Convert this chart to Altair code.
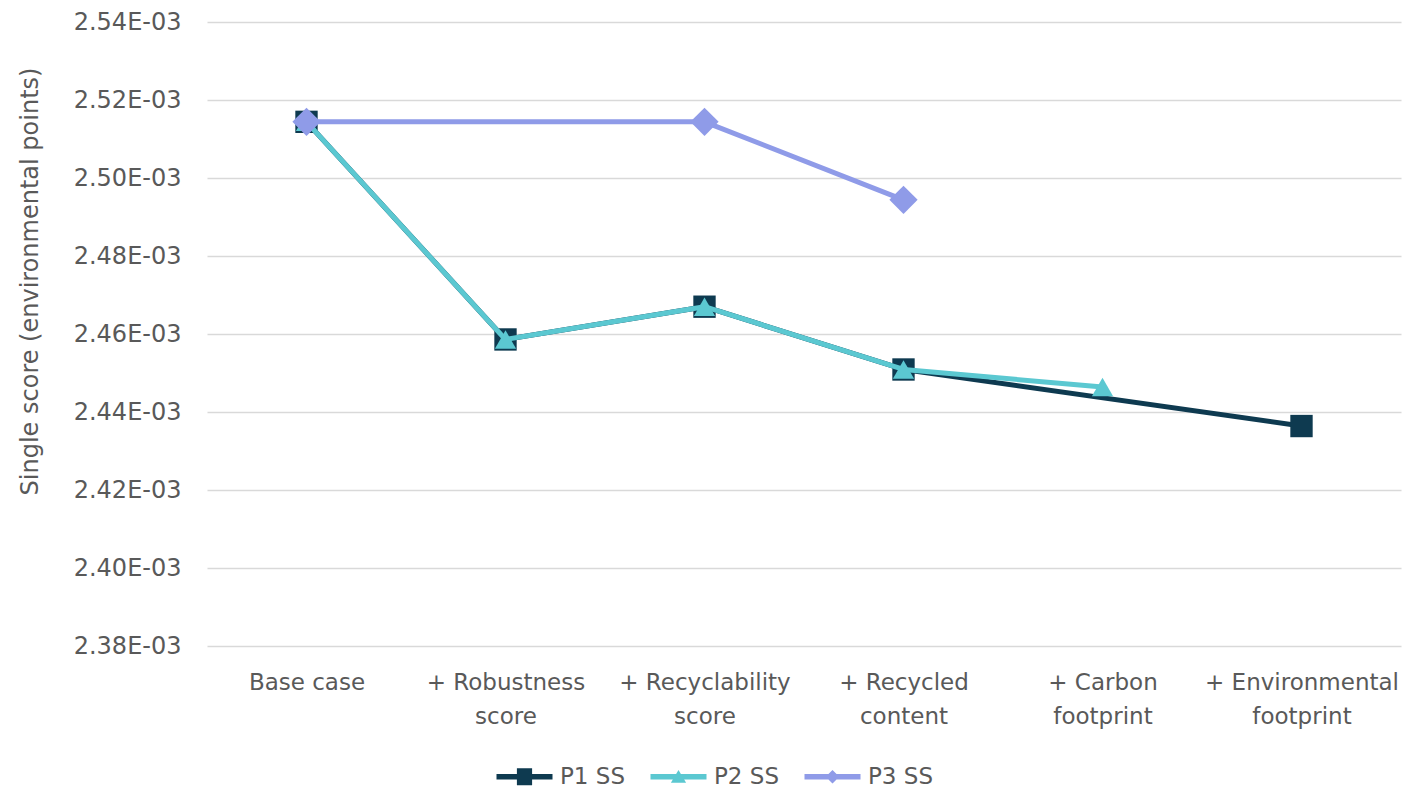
import altair as alt
import pandas as pd

# Scenario steps (x axis); "\n" marks the line break in the axis label
categories = [
    "Base case",
    "+ Robustness\nscore",
    "+ Recyclability\nscore",
    "+ Recycled\ncontent",
    "+ Carbon\nfootprint",
    "+ Environmental\nfootprint",
]

# Single score per scenario step (None = step not assessed for that product)
p1_ss = [2.5144e-03, 2.4586e-03, 2.4670e-03, 2.4509e-03, None, 2.4364e-03]
p2_ss = [2.5144e-03, 2.4586e-03, 2.4670e-03, 2.4509e-03, 2.4464e-03, None]
p3_ss = [2.5144e-03, None, 2.5144e-03, 2.4944e-03, None, None]

series_names = ["P1 SS", "P2 SS", "P3 SS"]
series_values = [p1_ss, p2_ss, p3_ss]
series_colors = ["#0e3a50", "#5bc8d1", "#8f9be8"]
series_shapes = ["square", "triangle-up", "diamond"]
marker_sizes = [500, 450, 800]

# Legend glyphs: a horizontal stroke with the series marker on top
legend_paths = [
    "M-3.5,-0.33L3.5,-0.33L3.5,0.33L-3.5,0.33Z M-0.95,-1.05L0.95,-1.05L0.95,1.05L-0.95,1.05Z",
    "M-3.5,-0.33L3.5,-0.33L3.5,0.33L-3.5,0.33Z M0,-0.85L0.95,0.75L-0.95,0.75Z",
    "M-3.5,-0.33L3.5,-0.33L3.5,0.33L-3.5,0.33Z M-0.85,0L0,-0.85L0.85,0L0,0.85Z",
]

rows = []
for name, vals in zip(series_names, series_values):
    for cat, v in zip(categories, vals):
        if v is not None:
            rows.append({"series": name, "step": cat, "score": v})
df = pd.DataFrame(rows)

FONT = "DejaVu Sans"
GREY = "#595959"

x_enc = alt.X(
    "step:N",
    sort=categories,
    scale=alt.Scale(type="point", padding=0.5),
    axis=alt.Axis(
        title=None,
        labelExpr="split(datum.label, '\\n')",
        labelAngle=0,
        labelFontSize=23,
        labelColor=GREY,
        labelFont=FONT,
        labelPadding=25,
        labelLineHeight=34,
        labelBaseline="top",
        labelLimit=400,
        labelOverlap=False,
        ticks=False,
        domain=False,
        grid=False,
    ),
)

y_enc = alt.Y(
    "score:Q",
    scale=alt.Scale(domain=[0.00238, 0.00254], nice=False, zero=False),
    axis=alt.Axis(
        title="Single score (environmental points)",
        titleFont=FONT,
        titleFontSize=24,
        titleFontWeight="normal",
        titleColor=GREY,
        titleX=-177,
        titleY=259,
        titleBaseline="middle",
        titleAlign="center",
        titleAngle=270,
        values=[0.00238 + i * 0.00002 for i in range(9)],
        labelExpr="format(datum.value * 1000, '.2f') + 'E-03'",
        labelFontSize=24,
        labelColor=GREY,
        labelFont=FONT,
        labelPadding=26,
        ticks=False,
        domain=False,
        grid=True,
        gridColor="#d9d9d9",
        gridWidth=1.5,
    ),
)

base = alt.Chart(df)
layers = []
for name, color, shape, msize in zip(series_names, series_colors, series_shapes, marker_sizes):
    sub = base.transform_filter(alt.datum.series == name)
    layers.append(
        sub.mark_line(color=color, strokeWidth=5, strokeJoin="round").encode(x=x_enc, y=y_enc)
    )
    layers.append(
        sub.mark_point(shape=shape, filled=True, color=color, size=msize, opacity=1).encode(
            x=x_enc, y=y_enc
        )
    )

legend_layer = base.mark_point(filled=True, size=0, opacity=1).encode(
    x=x_enc,
    y=y_enc,
    color=alt.Color(
        "series:N",
        scale=alt.Scale(domain=series_names, range=series_colors),
        legend=alt.Legend(
            title=None,
            orient="none",
            direction="horizontal",
            legendX=306,
            legendY=743,
            padding=0,
            symbolSize=256,
            symbolStrokeWidth=0,
            symbolOpacity=1,
            labelOffset=24,
            labelFontSize=23,
            labelColor=GREY,
            labelFont=FONT,
            columnPadding=24,
        ),
    ),
    shape=alt.Shape(
        "series:N",
        scale=alt.Scale(domain=series_names, range=legend_paths),
        legend=None,
    ),
)
layers.append(legend_layer)

chart = (
    alt.layer(*layers)
    .properties(
        width=1194,
        height=624,
        autosize=alt.AutoSizeParams(type="none"),
        padding={"left": 207, "top": 22, "right": 6, "bottom": 142},
        background="white",
    )
    .configure_view(stroke=None)
)

chart.save("out.html", embed_options={"renderer": "svg", "actions": False})
